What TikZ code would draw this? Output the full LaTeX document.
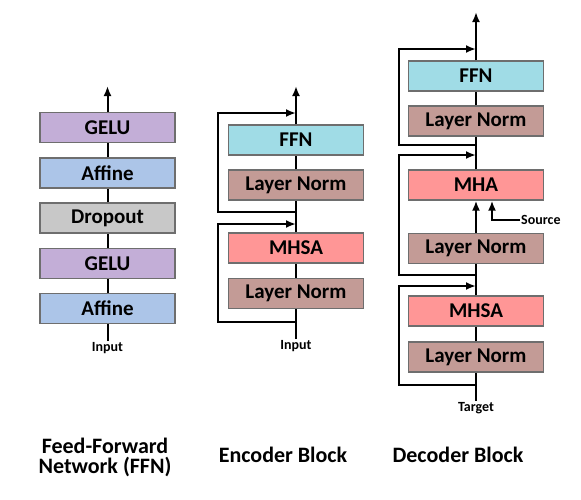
\documentclass[tikz,border=0pt]{standalone}
\usepackage{fontspec}
\setmainfont{Carlito}
\usepackage{tikz}
\usetikzlibrary{arrows.meta}
\tikzset{>={Latex[length=10pt,width=8pt]}}
\definecolor{gelucol}{RGB}{195,174,215}
\definecolor{affinecol}{RGB}{172,197,232}
\definecolor{dropcol}{RGB}{200,200,200}
\definecolor{ffncol}{RGB}{160,220,230}
\definecolor{normcol}{RGB}{195,155,150}
\definecolor{attcol}{RGB}{255,150,150}
\definecolor{edgecol}{RGB}{110,110,110}
\tikzset{
  blk/.style = {draw = edgecol, line width = 1.3pt, minimum width = 135pt,
    minimum height = 30pt, inner sep = 0pt, font = \fontsize{21}{22}\selectfont\bfseries},
  gelu/.style = {blk, fill = gelucol},
  affine/.style = {blk, fill = affinecol},
  drop/.style = {blk, fill = dropcol},
  ffn/.style = {blk, fill = ffncol},
  lnorm/.style = {blk, fill = normcol},
  att/.style = {blk, fill = attcol},
  lbl/.style = {font = \fontsize{14}{15}\selectfont\bfseries, inner sep = 1pt},
  ttl/.style = {font = \fontsize{22}{20}\selectfont\bfseries, align = center},
  wire/.style = {line width = 2pt}
}

\begin{document}
\begin{tikzpicture}[x = 1pt, y = -1pt]
\useasboundingbox (0,0) rectangle (581,499);
% feed-forward network
\begin{scope}
\node[affine] (fa1) at (107.5, 308.5) {Affine};
\node[gelu] (fg1) at (107.5, 263.5) {GELU};
\node[drop] (fd) at (107.5, 218) {Dropout};
\node[affine] (fa2) at (107.5, 173) {Affine};
\node[gelu] (fg2) at (107.5, 127.5) {GELU};
\node[lbl] (fin) at (107.5, 348) {Input};
\coordinate (fout) at (107.5, 86);
\draw[wire] (fin) -- (fa1);
\draw[wire] (fa1) -- (fg1);
\draw[wire] (fg1) -- (fd);
\draw[wire] (fd) -- (fa2);
\draw[wire] (fa2) -- (fg2);
\draw[wire, ->] (fg2) -- (fout);
\node[ttl] (fttl) at (105, 457) {Feed-Forward\\Network (FFN)};
\end{scope}
% encoder block
\begin{scope}
\node[lnorm] (en1) at (296, 293.5) {Layer Norm};
\node[att] (emhsa) at (296, 248) {MHSA};
\node[lnorm] (en2) at (296, 185) {Layer Norm};
\node[ffn] (effn) at (296, 140) {FFN};
\node[lbl] (ein) at (296, 346) {Input};
\coordinate (eb1) at (296, 322);
\coordinate (ej1) at (296, 224);
\coordinate (eb2) at (296, 212);
\coordinate (ej2) at (296, 113);
\coordinate (eout) at (296, 86);
\draw[wire] (ein) -- (en1);
\draw[wire] (en1) -- (emhsa);
\draw[wire] (emhsa) -- (en2);
\draw[wire] (en2) -- (effn);
\draw[wire, ->] (effn) -- (eout);
\draw[wire, ->] (eb1) -- ++(-78, 0) |- (ej1);
\draw[wire, ->] (eb2) -- ++(-78, 0) |- (ej2);
\node[ttl] (ettl) at (283, 455) {Encoder Block};
\end{scope}
% decoder block
\begin{scope}
\node[lnorm] (dn1) at (476, 357) {Layer Norm};
\node[att] (dmhsa) at (476, 311) {MHSA};
\node[lnorm] (dn2) at (476, 248.5) {Layer Norm};
\node[att] (dmha) at (476, 185) {MHA};
\node[lnorm] (dn3) at (476, 121) {Layer Norm};
\node[ffn] (dffn) at (476, 76) {FFN};
\node[lbl] (din) at (476, 408) {Target};
\coordinate (db1) at (476, 385);
\coordinate (dj1) at (476, 286);
\coordinate (db2) at (476, 275);
\coordinate (dj2) at (476, 155);
\coordinate (db3) at (476, 145);
\coordinate (dj3) at (476, 49);
\coordinate (dout) at (476, 12);
\coordinate (src) at (520, 220);
\draw[wire] (din) -- (dn1);
\draw[wire] (dn1) -- (dmhsa);
\draw[wire] (dmhsa) -- (dn2);
\draw[wire, ->] (dn2) -- (dmha);
\draw[wire] (dmha) -- (dn3);
\draw[wire] (dn3) -- (dffn);
\draw[wire, ->] (dffn) -- (dout);
\draw[wire, ->] (db1) -- ++(-77, 0) |- (dj1);
\draw[wire, ->] (db2) -- ++(-77, 0) |- (dj2);
\draw[wire, ->] (db3) -- ++(-77, 0) |- (dj3);
\node[lbl, anchor = west] (dsrc) at (src) {Source};
\draw[wire, ->] (src) -| ([xshift = 16pt]dmha.south);
\node[ttl] (dttl) at (458, 455) {Decoder Block};
\end{scope}
\end{tikzpicture}
\end{document}
